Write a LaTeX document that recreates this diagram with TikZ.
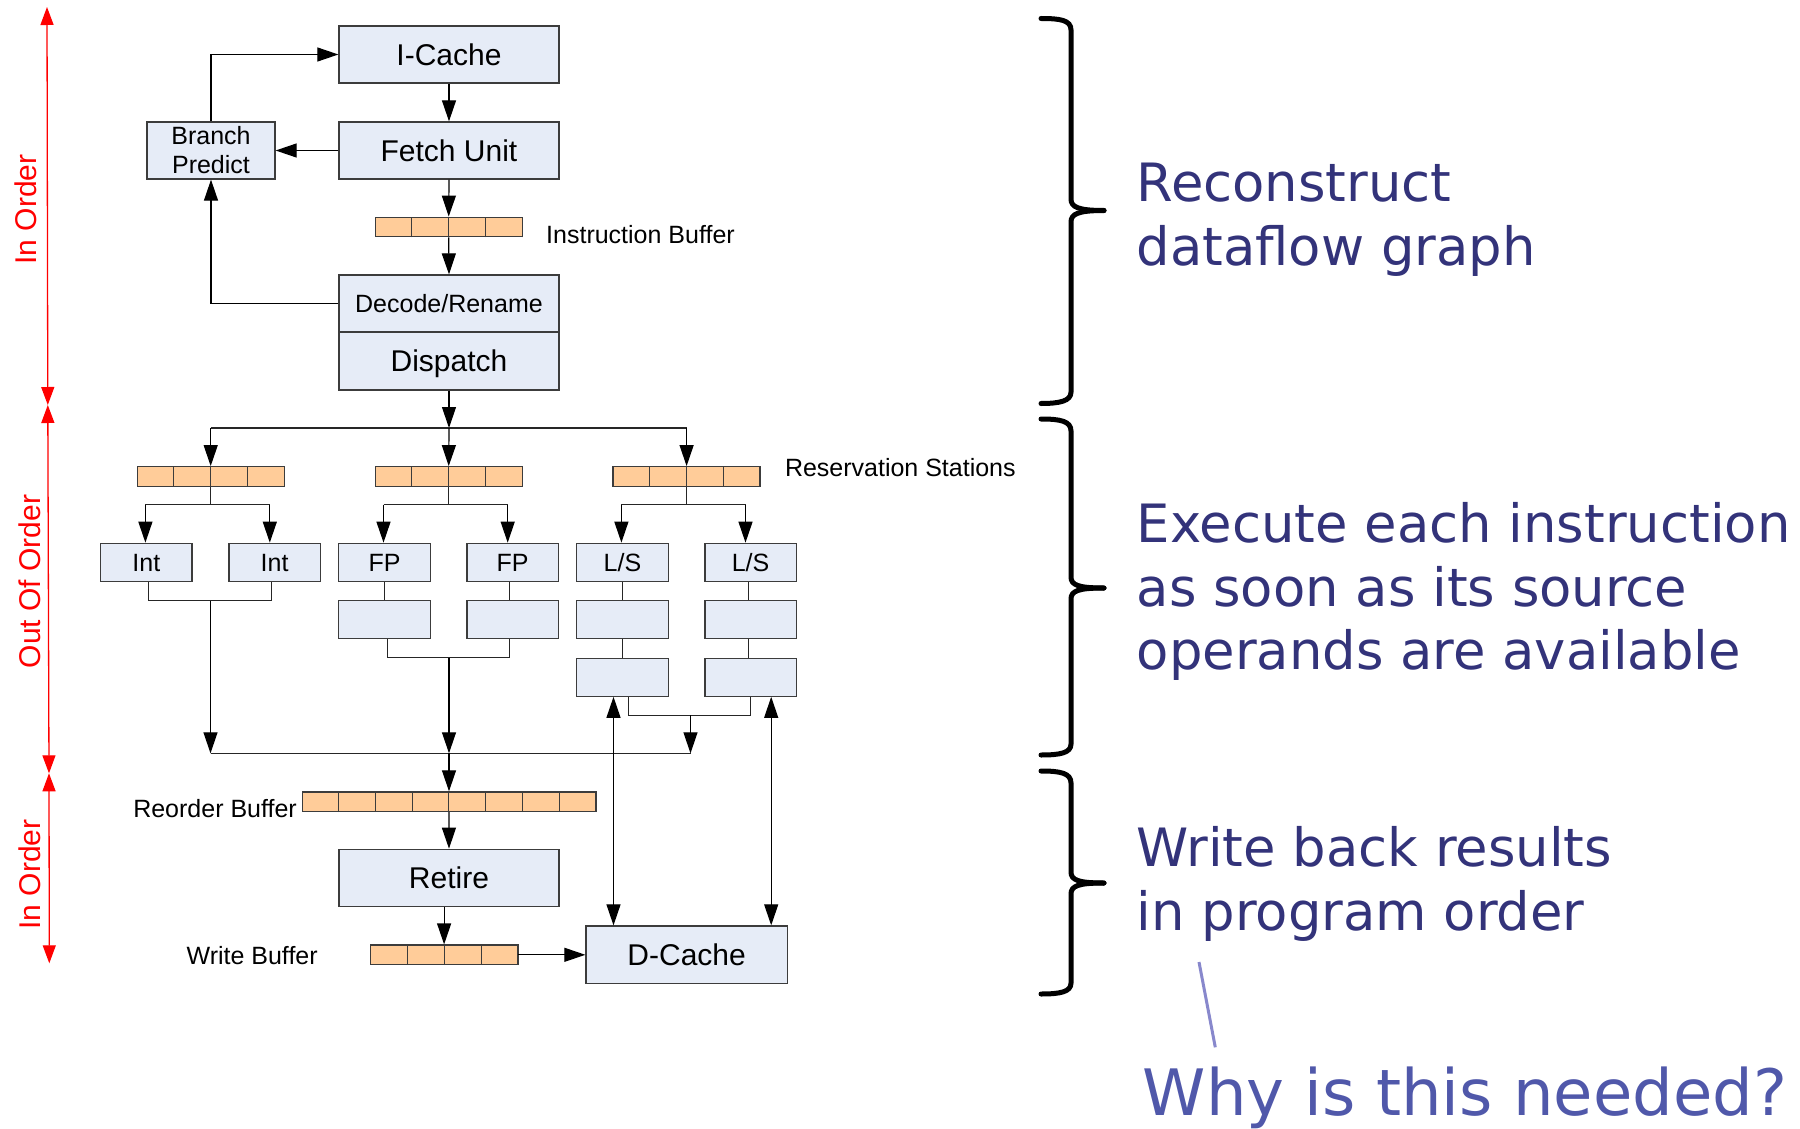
\documentclass[tikz,border=0pt]{standalone}
\usepackage{fontspec}
\setmainfont{Liberation Sans}
\newfontfamily\vfont{DejaVu Sans}
\usetikzlibrary{arrows.meta,calc}
\definecolor{boxfill}{HTML}{E6ECF7}
\definecolor{boxedge}{HTML}{3C3C3C}
\definecolor{peach}{HTML}{FFCC99}
\definecolor{navy}{HTML}{33337A}
\definecolor{whyblue}{HTML}{5058AA}
\definecolor{pointer}{HTML}{8888CC}
\newcommand\bufcells[2]{\foreach \k in {1,...,#2}{\pgfmathsetmacro\fr{\k/#2}\draw[line width=1.1pt, draw=boxedge] ($(#1.south west)!\fr!(#1.south east)$) -- ($(#1.north west)!\fr!(#1.north east)$);}}
\begin{document}
\begin{tikzpicture}[x=1pt,y=-1pt,
  bigbox/.style={draw=boxedge, fill=boxfill, line width=1.3pt, inner sep=0pt, minimum width=220pt, minimum height=57pt, font=\fontsize{30}{36}\selectfont, text height=21.5pt, text depth=0pt},
  exunit/.style={draw=boxedge, fill=boxfill, line width=1.3pt, inner sep=0pt, minimum width=91.5pt, minimum height=38pt, font=\fontsize{25}{30}\selectfont, text height=17.9pt, text depth=0pt},
  buffer/.style={draw=boxedge, fill=peach, line width=1.3pt, inner sep=0pt, minimum height=19.5pt},
  lbl/.style={inner sep=0pt, font=\fontsize{25}{30}\selectfont},
  redlbl/.style={inner sep=0pt, text=red, rotate=90, anchor=base, font=\fontsize{30}{36}\selectfont},
  arr/.style={draw=black, line width=1.2pt, -{Triangle[length=21pt,width=14pt]}},
  dbl/.style={draw=black, line width=1.2pt, {Triangle[length=21pt,width=14pt]}-{Triangle[length=21pt,width=14pt]}},
  wire/.style={draw=black!85, line width=1.2pt},
  redarr/.style={draw=red, line width=1.3pt, {Triangle[length=18pt,width=13pt]}-{Triangle[length=18pt,width=13pt]}},
  brace/.style={draw=black, line width=5pt, line cap=round},
  note/.style={inner sep=0pt, anchor=base west, text=navy, font=\vfont\fontsize{52.8}{62}\selectfont}
]
\useasboundingbox (0,0) rectangle (1800,1129);

% ---------- front end ----------
\node[bigbox] (icache) at (449,54.5) {I-Cache};
\node[bigbox] (fetch) at (449,150.5) {Fetch Unit};
\node[draw=boxedge, fill=boxfill, line width=1.3pt, inner sep=0pt, minimum width=128pt, minimum height=57pt, align=center, font=\fontsize{25}{29}\selectfont] (bp) at (211,150.5) {Branch\\Predict};
\node[buffer, minimum width=147pt] (ib) at (448.7,227) {};
\bufcells{ib}{4}
\node[bigbox, font=\fontsize{25}{30}\selectfont, text height=17.9pt] (decode) at (449,303.5) {Decode/Rename};
\node[bigbox, minimum height=58pt] (dispatch) at (449,361) {Dispatch};
\node[lbl, anchor=base west] (iblbl) at (546,243.5) {Instruction Buffer};

\draw[arr] (bp.north) |- (icache.west);
\draw[arr] (fetch.west) -- (bp.east);
\draw[arr] (decode.west) -| (bp.south);
\draw[arr] (icache.south) -- (fetch.north);
\draw[arr] (fetch.south) -- (ib.north);
\draw[arr] (ib.south) -- (decode.north);

% ---------- reservation stations ----------
\node[buffer, minimum width=147pt] (rs1) at (210.7,476.5) {};
\node[buffer, minimum width=147pt] (rs2) at (448.7,476.5) {};
\node[buffer, minimum width=147pt] (rs3) at (686.6,476.5) {};
\bufcells{rs1}{4}
\bufcells{rs2}{4}
\bufcells{rs3}{4}
\node[lbl, anchor=base west] (rslbl) at (784.8,476.7) {Reservation Stations};

\coordinate (dsplit) at (449,428);
\draw[arr] (dispatch.south) -- (dsplit);
\draw[wire] (rs1.north |- dsplit) -- (rs3.north |- dsplit);
\draw[arr] (rs1.north |- dsplit) -- (rs1.north);
\draw[arr] (dsplit) -- (rs2.north);
\draw[arr] (rs3.north |- dsplit) -- (rs3.north);

% ---------- execution units ----------
\node[exunit] (int1) at (146.3,562.3) {Int};
\node[exunit] (int2) at (274.6,562.3) {Int};
\node[exunit] (fp1) at (384.5,562.3) {FP};
\node[exunit] (fp2) at (512.6,562.3) {FP};
\node[exunit] (ls1) at (622.5,562.3) {L/S};
\node[exunit] (ls2) at (750.6,562.3) {L/S};
\node[exunit] (fp1b) at (384.5,619.8) {};
\node[exunit] (fp2b) at (512.6,619.8) {};
\node[exunit] (ls1b) at (622.5,619.8) {};
\node[exunit] (ls2b) at (750.6,619.8) {};
\node[exunit] (ls1c) at (622.5,677.2) {};
\node[exunit] (ls2c) at (750.6,677.2) {};

% issue branches
\coordinate (i1in) at (145.4,504.5);
\coordinate (i2in) at (269.8,504.5);
\coordinate (f1in) at (383.5,504.5);
\coordinate (f2in) at (507.7,504.5);
\coordinate (l1in) at (621.4,504.5);
\coordinate (l2in) at (745.5,504.5);
\draw[wire] (rs1.south) -- (rs1.south |- i1in);
\draw[wire] (rs2.south) -- (rs2.south |- f1in);
\draw[wire] (rs3.south) -- (rs3.south |- l1in);
\draw[wire] (i1in) -- (i2in);
\draw[wire] (f1in) -- (f2in);
\draw[wire] (l1in) -- (l2in);
\draw[arr] (i1in) -- (i1in |- int1.north);
\draw[arr] (i2in) -- (i2in |- int2.north);
\draw[arr] (f1in) -- (f1in |- fp1.north);
\draw[arr] (f2in) -- (f2in |- fp2.north);
\draw[arr] (l1in) -- (l1in |- ls1.north);
\draw[arr] (l2in) -- (l2in |- ls2.north);

% pipelines
\coordinate (f2line) at (509.8,640);
\coordinate (l2line) at (748.3,640);
\draw[wire] (fp1.south) -- (fp1b.north);
\draw[wire] (f2line |- fp2.south) -- (f2line |- fp2b.north);
\draw[wire] (ls1.south) -- (ls1b.north);
\draw[wire] (ls1b.south) -- (ls1c.north);
\draw[wire] (l2line |- ls2.south) -- (l2line |- ls2b.north);
\draw[wire] (l2line |- ls2b.south) -- (l2line |- ls2c.north);

% result collection
\coordinate (i1out) at (148.5,600.7);
\coordinate (i2out) at (271.3,600.7);
\coordinate (intmid) at (210.5,600.7);
\coordinate (f1out) at (387.3,657.7);
\coordinate (f2out) at (509.8,657.7);
\coordinate (fpmid) at (449,657.7);
\coordinate (l1out) at (628.7,715.3);
\coordinate (l2out) at (750.8,715.3);
\coordinate (lsmid) at (690.5,715.3);
\coordinate (c1) at (210.5,753.3);
\coordinate (c2) at (449,753.3);
\coordinate (c3) at (690.5,753.3);
\draw[wire] (i1out |- int1.south) -- (i1out) -- (i2out) -- (i2out |- int2.south);
\draw[wire] (f1out |- fp1b.south) -- (f1out) -- (f2out) -- (f2out |- fp2b.south);
\draw[wire] (l1out |- ls1c.south) -- (l1out) -- (l2out) -- (l2out |- ls2c.south);
\draw[arr] (intmid) -- (c1);
\draw[arr] (fpmid) -- (c2);
\draw[arr] (lsmid) -- (c3);
\draw[wire] (c1) -- (c3);

% ---------- back end ----------
\node[buffer, minimum width=293pt] (rob) at (448.9,801.7) {};
\bufcells{rob}{8}
\node[lbl, anchor=base east] (roblbl) at (297,817) {Reorder Buffer};
\node[bigbox, minimum height=57.4pt] (retire) at (449,878) {Retire};
\node[buffer, minimum width=146.6pt] (wb) at (444.1,954.8) {};
\bufcells{wb}{4}
\node[lbl, anchor=base west] (wblbl) at (186.4,964.3) {Write Buffer};
\node[bigbox, minimum width=201.3pt, minimum height=57.7pt] (dcache) at (686.65,954.85) {D-Cache};

\draw[arr] (c2) -- (c2 |- rob.north);
\draw[arr] (rob.south) -- (retire.north);
\draw[arr] (wb.north |- retire.south) -- (wb.north);
\draw[arr] (wb.east) -- (wb.east -| dcache.west);
\coordinate (m1) at (613.5,800);
\coordinate (m2) at (771.2,800);
\draw[dbl] (m1 |- ls1c.south) -- (m1 |- dcache.north);
\draw[dbl] (m2 |- ls2c.south) -- (m2 |- dcache.north);

% ---------- left red scale ----------
\coordinate (r0) at (47,7);
\coordinate (r1) at (47.8,405);
\coordinate (r2) at (49,773.3);
\coordinate (r3) at (49.3,963.3);
\draw[redarr] (r0) -- (r1);
\draw[redarr] (r1) -- (r2);
\draw[redarr] (r2) -- (r3);
\node[redlbl] (io1) at (36.4,209.5) {In Order};
\node[redlbl] (ooo) at (40,581.5) {Out Of Order};
\node[redlbl] (io2) at (40.2,874.5) {In Order};

% ---------- braces ----------
\draw[brace] (1041,18.5) .. controls (1060,18.5) and (1071,20) .. (1071,30) -- (1071,199) .. controls (1071,207) and (1078,210.5) .. (1104,210.5);
\draw[brace] (1104,210.5) .. controls (1078,210.5) and (1071,214) .. (1071,222) -- (1071,392) .. controls (1071,401) and (1060,403.5) .. (1041,403.5);
\draw[brace] (1041,419) .. controls (1060,419) and (1071,421) .. (1071,431) -- (1071,577) .. controls (1071,585) and (1078,588) .. (1104,588);
\draw[brace] (1104,588) .. controls (1078,588) and (1071,591) .. (1071,599) -- (1071,744) .. controls (1071,753) and (1060,755) .. (1041,755);
\draw[brace] (1041,771) .. controls (1060,771) and (1071,773) .. (1071,783) -- (1071,872) .. controls (1071,880) and (1078,883) .. (1104,883);
\draw[brace] (1104,883) .. controls (1078,883) and (1071,886) .. (1071,894) -- (1071,983) .. controls (1071,992) and (1060,994) .. (1041,994);

% ---------- notes ----------
\node[note] (n1) at (1136.5,201) {Reconstruct};
\node[note] (n2) at (1136.5,265) {dataflow graph};
\node[note] (n3) at (1136.5,542) {Execute each instruction};
\node[note] (n4) at (1136.5,606) {as soon as its source};
\node[note] (n5) at (1136.5,669) {operands are available};
\node[note] (n6) at (1136.5,866) {Write back results};
\node[note] (n7) at (1136.5,930) {in program order};
\node[note, text=whyblue, font=\vfont\fontsize{64}{75}\selectfont] (why) at (1142.5,1115) {Why is this needed?};
\coordinate (p0) at (1199,962);
\coordinate (p1) at (1215.3,1047.3);
\draw[draw=pointer, line width=3pt] (p0) -- (p1);
\end{tikzpicture}
\end{document}
